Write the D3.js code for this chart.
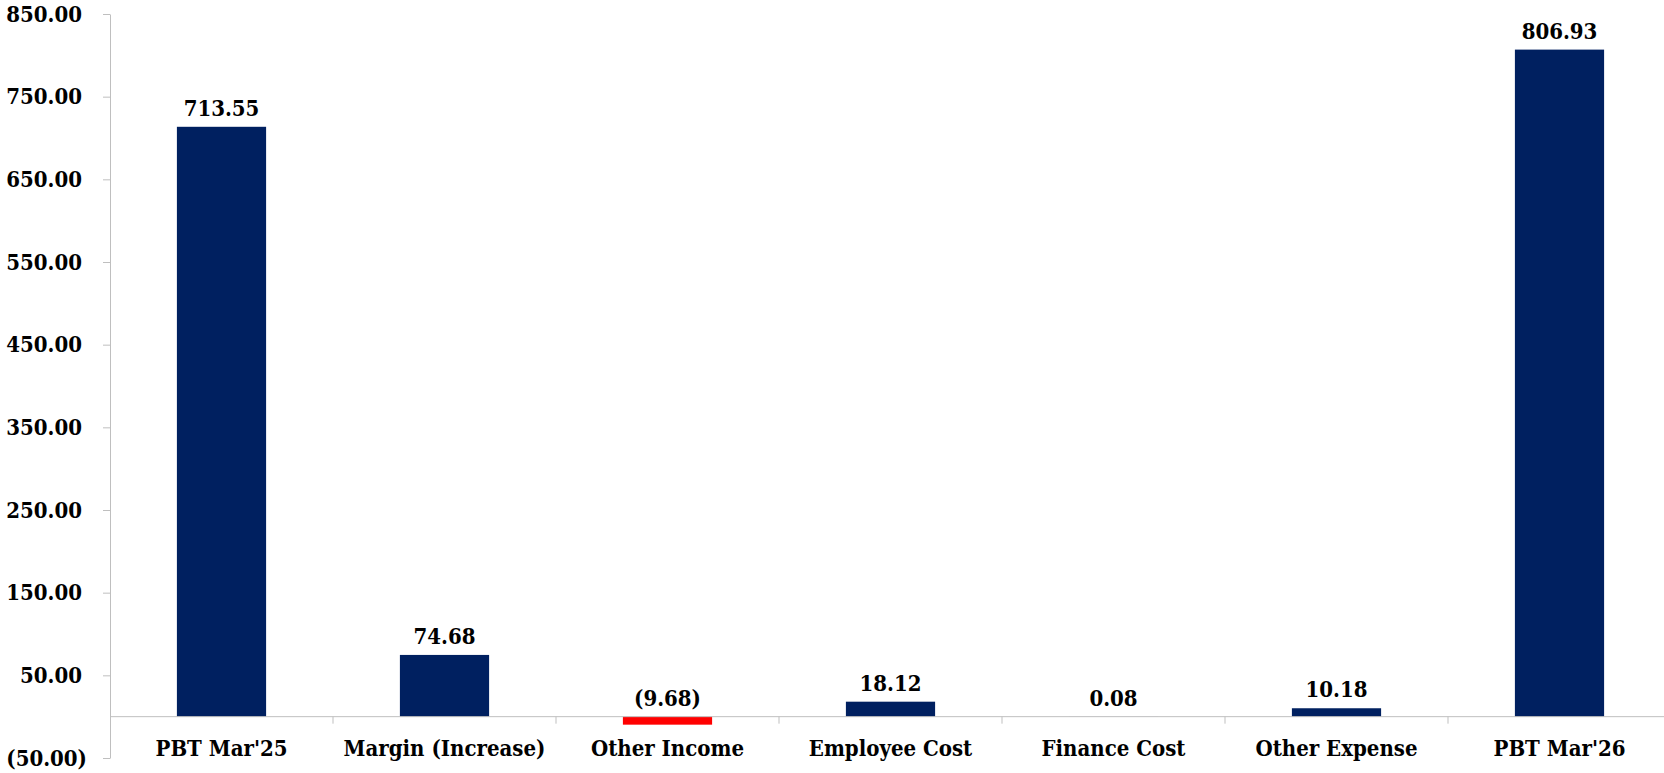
<!DOCTYPE html>
<html>
<head>
<meta charset="utf-8">
<script src="https://cdn.jsdelivr.net/npm/d3@7"></script>
<style>
    body { margin: 0; background: #fff; }
    svg { display: block; }
    .lbl { font-family: "DejaVu Serif Condensed", "DejaVu Serif", serif; font-stretch: condensed; font-weight: bold; fill: #000; }
    .axis path, .axis line { stroke: #bfbfbf; }
</style>
</head>
<body>
<div id="chart"></div>
<script>
/*global d3*/
var categories = ["PBT Mar'25", "Margin (Increase)", "Other Income", "Employee Cost", "Finance Cost", "Other Expense", "PBT Mar'26"];
var values = [713.55, 74.68, -9.68, 18.12, 0.08, 10.18, 806.93];
var yTicks = [-50, 50, 150, 250, 350, 450, 550, 650, 750, 850];

var svgWidth = 1664;
var svgHeight = 773;
var plot = { left: 110, right: 1671, top: 14, bottom: 758 };

function fmt(v) {
    var s = d3.format(",.2f")(Math.abs(v));
    return v < 0 ? "(" + s + ")" : s;
}

var svg = d3.select("#chart").append("svg")
    .attr("width", svgWidth)
    .attr("height", svgHeight);

var x = d3.scaleBand().domain(categories).range([plot.left, plot.right]).padding(0);
var y = d3.scaleLinear().domain([-50, 850]).range([plot.bottom, plot.top]);
var barW = x.bandwidth() * 0.4;

// y axis
var yAxis = svg.append("g")
    .attr("class", "axis")
    .attr("transform", "translate(" + plot.left + ",0)")
    .call(d3.axisLeft(y).tickValues(yTicks).tickSize(7).tickPadding(21).tickSizeOuter(0).tickFormat(fmt));
yAxis.selectAll("text")
    .attr("class", "lbl")
    .style("font-size", "22px")
    .attr("dx", function (d) {
        return d < 0 ? 5 : 0;
    });

// bars
svg.selectAll(".bar")
    .data(values)
    .enter()
    .append("rect")
    .attr("class", "bar")
    .attr("x", function (d, i) {
        return x(categories[i]) + (x.bandwidth() - barW) / 2;
    })
    .attr("y", function (d) {
        return y(Math.max(0, d));
    })
    .attr("width", barW)
    .attr("height", function (d) {
        return Math.abs(y(d) - y(0));
    })
    .attr("fill", function (d) {
        return d < 0 ? "#ff0000" : "#002060";
    });

// x axis line at zero, with boundary ticks
var xAxis = svg.append("g").attr("class", "axis");
xAxis.append("line")
    .attr("x1", plot.left)
    .attr("x2", plot.right)
    .attr("y1", y(0))
    .attr("y2", y(0));
xAxis.selectAll(".btick")
    .data(categories)
    .enter()
    .append("line")
    .attr("class", "btick")
    .attr("x1", function (d) {
        return x(d) + x.bandwidth();
    })
    .attr("x2", function (d) {
        return x(d) + x.bandwidth();
    })
    .attr("y1", y(0))
    .attr("y2", y(0) + 7);

// category labels
svg.selectAll(".cat")
    .data(categories)
    .enter()
    .append("text")
    .attr("class", "lbl cat")
    .attr("x", function (d) {
        return x(d) + x.bandwidth() / 2;
    })
    .attr("y", y(0) + 39)
    .attr("text-anchor", "middle")
    .style("font-size", "22px")
    .text(function (d) {
        return d;
    });

// value labels
svg.selectAll(".val")
    .data(values)
    .enter()
    .append("text")
    .attr("class", "lbl val")
    .attr("x", function (d, i) {
        return x(categories[i]) + x.bandwidth() / 2;
    })
    .attr("y", function (d) {
        return y(Math.max(0, d)) - 11;
    })
    .attr("text-anchor", "middle")
    .style("font-size", "22px")
    .text(fmt);
</script>
</body>
</html>
